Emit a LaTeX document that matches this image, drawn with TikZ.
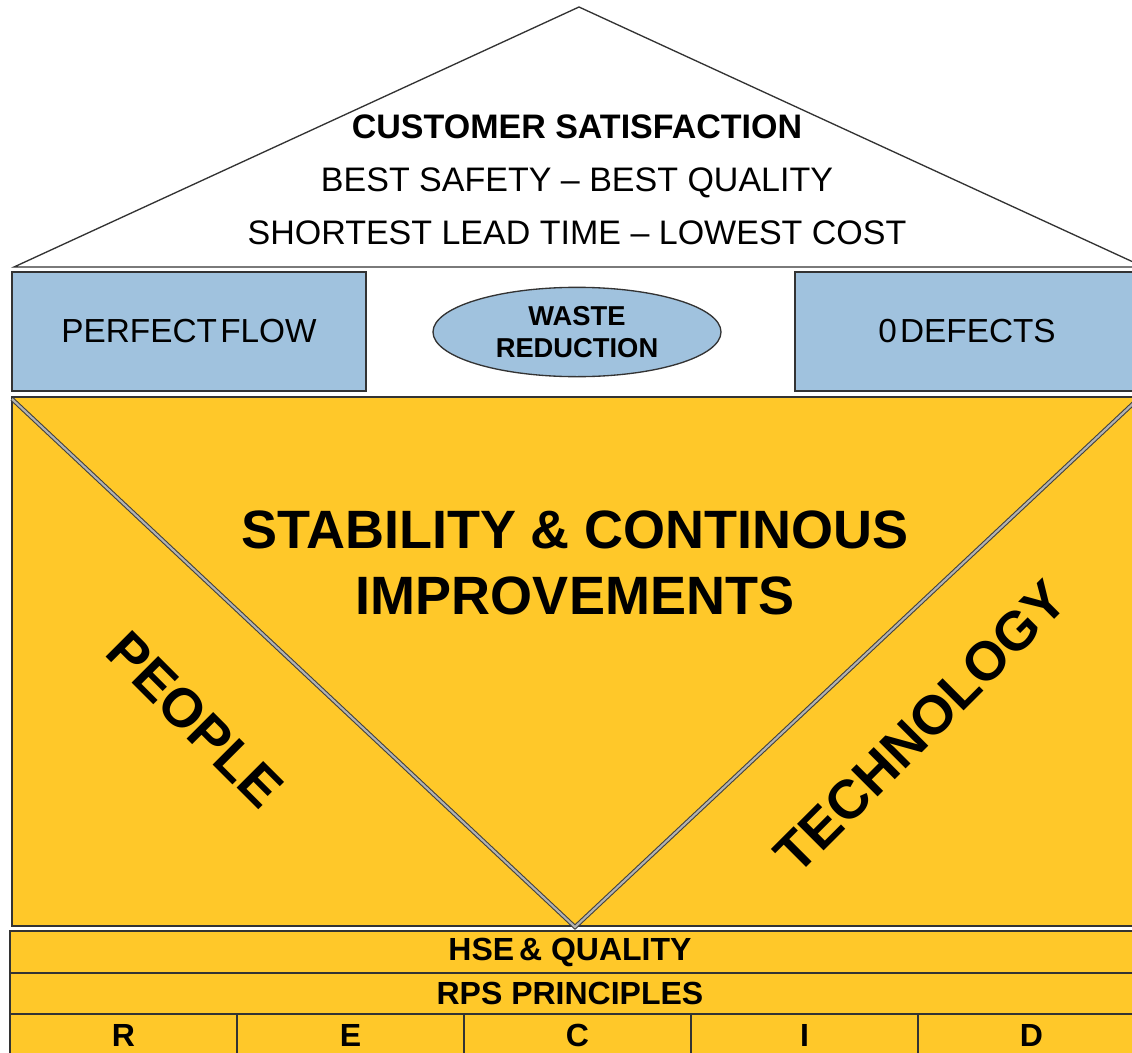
\documentclass[tikz,border=0pt]{standalone}
\usepackage{fontspec}
\setmainfont{Liberation Sans}
\usepackage{tikz}
\usetikzlibrary{shapes.geometric}
\definecolor{pillarblue}{RGB}{160,194,222}
\definecolor{houseyellow}{RGB}{255,200,41}

\begin{document}
\begin{tikzpicture}[
x=0.75pt,y=-0.75pt,
frame/.style={draw=black!80,line width=1pt},
vline/.style={draw=black!75,double=gray!60,double distance=1.6pt,line width=0.8pt},
rooftext/.style={font=\fontsize{25.5}{39.75}\selectfont,align=center,inner sep=0pt},
pillartext/.style={font=\fontsize{25}{30}\selectfont,inner sep=0pt},
bigtext/.style={font=\bfseries\fontsize{40.5}{50}\selectfont,align=center,inner sep=0pt},
sidetext/.style={font=\bfseries\fontsize{41}{48}\selectfont,inner sep=0pt},
basetext/.style={font=\bfseries\fontsize{24}{28}\selectfont,inner sep=0pt}]
\useasboundingbox (0,0) rectangle (1132,1053);
\clip (0,0) rectangle (1132,1053);

% Roof
\draw[frame,fill=white] (14,267) coordinate (eaveL) -- (579,7) coordinate (apex)
-- (1144,267) coordinate (eaveR) -- cycle;
\node[rooftext] (goal) at (577,180)
{\textbf{CUSTOMER SATISFACTION}\\BEST SAFETY – BEST QUALITY\\SHORTEST LEAD TIME – LOWEST COST};

% Pillars
\draw[frame,fill=pillarblue] (12,272) rectangle (366,391);
\node[pillartext] (flow) at (189,331) {PERFECT\hspace{0.1em}FLOW};
\node[frame,fill=pillarblue,ellipse,minimum width=216pt,minimum height=67pt,
align=center,inner sep=0pt,font=\bfseries\fontsize{20.5}{24}\selectfont] (waste) at (577,332) {WASTE\\REDUCTION};
\draw[frame,fill=pillarblue] (795,272) rectangle (1140,391);
\node[pillartext] (defects) at (967,331) {0\hspace{0.1em}DEFECTS};

% Body with the V
\draw[frame,fill=houseyellow] (12,397) rectangle (1145,926);
\draw
(12,399) coordinate (vL)
(575,927) coordinate (vtip)
(1138,399) coordinate (vR);
\draw[vline] (vL) -- (vtip) -- (vR);
\node[bigtext] (stab) at (575,563) {STABILITY \& CONTINOUS\\IMPROVEMENTS};
\node[sidetext,rotate=-45] (people) at (195,720) {PEOPLE};
\node[sidetext,rotate=45] (tech) at (921,727) {TECHNOLOGY};

% Foundation
\draw[frame,fill=houseyellow] (10,931) rectangle (1145,973);
\node[basetext] (hse) at (570,952) {HSE\hspace{0.15em}\& QUALITY};
\draw[frame,fill=houseyellow] (10,973) rectangle (1145,1014);
\node[basetext] (rps) at (570,993) {RPS PRINCIPLES};
\foreach \ltr [count=\i from 0] in {R,E,C,I,D}{
  \draw[frame,fill=houseyellow] (10+227*\i,1014) rectangle (237+227*\i,1065);
  \node[basetext] (col\i) at (123.5+227*\i,1035) {\ltr};
}

\end{tikzpicture}
\end{document}
